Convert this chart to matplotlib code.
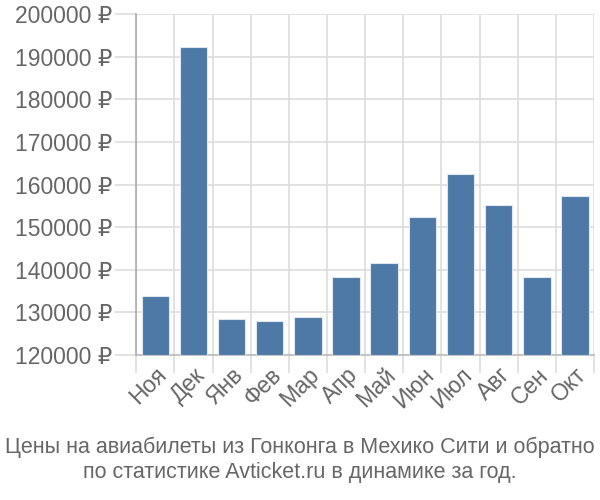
import matplotlib
matplotlib.use("Agg")
import matplotlib.pyplot as plt
import numpy as np

plt.rcParams['font.family'] = ['Liberation Sans', 'DejaVu Sans']

months = ["Ноя", "Дек", "Янв", "Фев", "Мар", "Апр", "Май", "Июн", "Июл", "Авг", "Сен", "Окт"]
prices = [133800, 192300, 128400, 128000, 129000, 138300, 141600, 152400, 162500, 155200, 138300, 157300]
yticks = [120000, 130000, 140000, 150000, 160000, 170000, 180000, 190000, 200000]
caption = "Цены на авиабилеты из Гонконга в Мехико Сити и обратно\nпо статистике Avticket.ru в динамике за год."

fig = plt.figure(figsize=(6, 5), dpi=100)
ax = fig.add_axes([0.227, 0.29, 0.763, 0.682])

x = np.arange(len(months))
ax.bar(x, [p - 120000 for p in prices], bottom=120000, width=0.72,
       color='#4e78a6', edgecolor='#dfe6ef', linewidth=0.8, zorder=3)

ax.set_xlim(-0.5, len(months) - 0.5)
ax.set_ylim(120000, 200000)

ax.set_yticks(yticks)
ax.set_yticklabels([f"{v} ₽" for v in yticks])
ax.set_xticks(x)
ax.set_xticklabels(months, rotation=45, ha='right', rotation_mode='anchor')
ax.set_xticks(np.arange(-0.5, len(months)), minor=True)

ax.tick_params(axis='y', length=15, color='#dddddd', width=1.2, labelsize=16.5,
               labelcolor='#666666', pad=2)
ax.tick_params(axis='x', which='major', length=0, labelsize=16.5, labelcolor='#666666', pad=6)
ax.tick_params(axis='x', which='minor', length=13, color='#dddddd', width=1.2)

ax.grid(axis='y', color='#dddddd', linewidth=1.2, zorder=0)
ax.grid(axis='x', which='minor', color='#dddddd', linewidth=1.2, zorder=0)
ax.set_axisbelow(True)

for s in ['top', 'right']:
    ax.spines[s].set_visible(False)
ax.spines['left'].set_color('#aaaaaa')
ax.spines['left'].set_linewidth(1.2)
ax.spines['bottom'].set_color('#bbbbbb')
ax.spines['bottom'].set_linewidth(1.2)

fig.text(0.5, 0.08, caption, ha='center', va='center', fontsize=15.5,
         color='#666666', linespacing=1.25)

fig.savefig("out.png", dpi=100)
